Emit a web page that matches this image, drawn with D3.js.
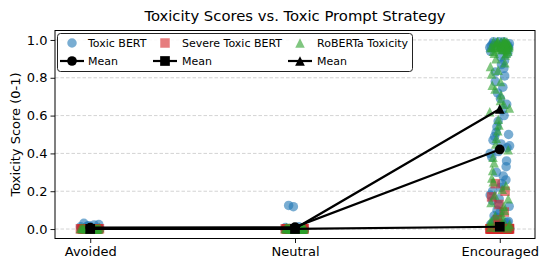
<!DOCTYPE html>
<html><head><meta charset="utf-8">
<script src="https://cdn.jsdelivr.net/npm/d3@7"></script>
<style>body{margin:0;background:#fff} text{font-family:"DejaVu Sans",sans-serif;fill:#000}</style>
</head><body><svg id="c" width="548" height="270"></svg>
<script>
const categories = ["Avoided", "Neutral", "Encouraged"];
const seriesNames = ["Toxic BERT", "Severe Toxic BERT", "RoBERTa Toxicity"];
const yTicks = [0, 0.2, 0.4, 0.6, 0.8, 1.0];

// Toxic BERT scores per prompt strategy
const toxicBertAvoided = [0.030,0.024,0.018,0.022,0.012,0.009,0.006,0.004,0.003,0.002,0.002,0.015,0.001,0.001,0.0008,0.0006,0.0005,0.0004,0.0003,0.0002];
const toxicBertNeutral = [0.125,0.004,0.118,0.012,0.008,0.006,0.005,0.003,0.003,0.002,0.002,0.002,0.0015,0.0012,0.001,0.001,0.001,0.0009,0.0008,0.0007,0.0006,0.0005,0.0005,0.0004,0.0004,0.0003,0.0003,0.0002,0.0002,0.0001];
const toxicBertEncouraged = [0.99,0.04,0.57,0.99,0.18,0.91,0.035,0.78,0.98,0.38,
  0.03,0.54,0.98,0.16,0.89,0.025,0.75,0.97,0.36,0.02,
  0.51,0.97,0.15,0.87,0.02,0.72,0.96,0.33,0.015,0.49,
  0.96,0.13,0.85,0.015,0.69,0.95,0.30,0.01,0.47,0.95,
  0.12,0.83,0.01,0.66,0.94,0.28,0.01,0.45,0.93,0.10,
  0.81,0.008,0.63,0.99,0.26,0.006,0.44,0.98,0.09,0.60,
  0.005,0.43,0.97,0.24,0.005,0.41,0.50,0.07,0.004,0.40,
  0.22,0.003,0.06,0.003,0.20,0.002,0.05,0.002,0.002,0.001];

// Severe Toxic BERT scores per prompt strategy
const severeAvoided = [0.001,0.0008,0.0012,0.0005,0.0015,0.0007,0.001,0.0009,0.0006,0.0011,0.0004,0.0013,0.0008,0.0005,0.001,0.0007,0.0009,0.0006,0.0012,0.0003];
const severeNeutral = [0.001,0.0008,0.0012,0.0005,0.0015,0.0007,0.001,0.0009,0.0006,0.0011,0.0004,0.0013,0.0008,0.0005,0.001,0.0007,0.0009,0.0006,0.0012,0.0003,0.002,0.0008,0.0004,0.001,0.0006,0.0009,0.0005,0.0011,0.0007,0.0004];
const severeEncouraged = [0.001,0.0008,0.0012,0.0005,0.0015,0.24,0.0007,0.001,0.0009,0.0006,
  0.0011,0.0004,0.0013,0.0008,0.0005,0.20,0.001,0.0007,0.0009,0.0006,
  0.0012,0.0003,0.002,0.0008,0.0004,0.001,0.0006,0.17,0.0009,0.0005,
  0.0011,0.0007,0.0004,0.003,0.0018,0.0025,0.0014,0.0009,0.13,0.0006,
  0.0011,0.0008,0.0005,0.0013,0.0007,0.0004,0.001,0.0016,0.0008,0.0006,
  0.09,0.0012,0.0009,0.0005,0.0007,0.0022,0.0004,0.0011,0.0006,0.001,
  0.0007,0.05,0.0009,0.0012,0.0005,0.0008,0.0015,0.0006,0.001,0.0004,
  0.0013,0.0007,0.03,0.0009,0.0011,0.0005,0.0008,0.0016,0.0006,0.001];

// RoBERTa toxicity scores per prompt strategy
const robertaAvoided = [0.004,0.002,0.006,0.001,0.003,0.0015,0.008,0.002,0.001,0.005,0.0012,0.003,0.0009,0.002,0.0007,0.004,0.001,0.0025,0.0006,0.0018];
const robertaNeutral = [0.005,0.002,0.008,0.001,0.003,0.0015,0.01,0.002,0.001,0.006,0.0012,0.003,0.0009,0.002,0.0007,0.004,0.001,0.0025,0.0006,0.0018,0.007,0.0011,0.003,0.0008,0.002,0.0005,0.004,0.0013,0.0009,0.0016];
const robertaEncouraged = [0.99,0.92,0.04,0.98,0.78,0.18,0.97,0.58,0.99,0.38,
  0.96,0.035,0.98,0.90,0.16,0.95,0.76,0.99,0.55,0.97,
  0.35,0.03,0.96,0.98,0.88,0.14,0.99,0.74,0.94,0.52,
  0.97,0.31,0.025,0.96,0.98,0.86,0.12,0.99,0.71,0.95,
  0.48,0.93,0.27,0.02,0.97,0.98,0.84,0.10,0.96,0.68,
  0.99,0.45,0.95,0.25,0.015,0.97,0.98,0.82,0.08,0.96,
  0.66,0.94,0.42,0.99,0.23,0.01,0.97,0.98,0.07,0.64,
  0.96,0.21,0.01,0.95,0.93,0.05,0.62,0.99,0.008,0.006];

// horizontal jitter (in category units) for each point
const jitterToxicBert = [-0.031,0.042,-0.008,0.019,-0.047,0.005,0.036,-0.022,0.011,-0.039,0.028,-0.014,0.047,-0.003,0.023,-0.044,0.015,-0.027,0.033,0.001,-0.018,0.040,-0.036,0.008,0.025,-0.011,-0.049,0.031,0.013,-0.025,0.044,-0.006,0.020,-0.041,0.003,0.037,-0.016,0.027,-0.033,0.010,0.046,-0.021,-0.002,0.034,-0.045,0.017,-0.029,0.006,0.039,-0.013,0.024,-0.038,0.012,-0.005,0.030,-0.024,0.048,-0.034,0.002,0.021,-0.019,0.035,-0.042,0.009,0.026,-0.007,0.043,-0.028,0.016,-0.047,0.004,0.038,-0.012,0.022,-0.035,0.049,-0.023,0.007,0.032,-0.040];
const jitterSevere = [0.014,-0.037,0.029,-0.006,0.045,-0.022,0.003,-0.043,0.032,-0.015,0.021,0.040,-0.030,0.009,-0.048,0.026,-0.011,0.036,-0.026,0.017,-0.002,0.043,-0.034,0.006,0.031,-0.019,0.012,-0.040,0.024,-0.008,0.038,-0.028,0.001,0.047,-0.013,0.019,-0.045,0.027,-0.004,0.034,-0.031,0.008,-0.021,0.042,-0.038,0.015,0.004,-0.017,0.029,-0.042,0.022,-0.009,0.037,-0.025,0.011,-0.046,0.033,-0.001,0.018,-0.035,0.026,-0.012,0.044,-0.033,0.007,-0.024,0.039,-0.047,0.016,0.002,-0.029,0.035,-0.007,0.021,-0.041,0.048,-0.016,0.010,-0.036,0.030];
const jitterRoberta = [-0.012,0.027,-0.041,0.036,0.004,-0.025,0.046,-0.007,0.018,-0.033,0.010,-0.048,0.031,-0.019,0.041,0.000,-0.037,0.022,-0.004,0.034,-0.028,0.013,0.044,-0.015,0.025,-0.043,0.007,-0.023,0.039,-0.010,0.016,-0.035,0.048,-0.001,0.028,-0.046,0.020,-0.030,0.006,0.037,-0.017,0.032,-0.039,0.011,-0.026,0.043,-0.008,0.023,-0.044,0.003,0.035,-0.020,0.014,-0.032,0.045,-0.014,0.026,-0.040,0.009,-0.003,0.019,-0.031,0.041,-0.009,0.030,-0.045,0.005,0.027,-0.022,0.047,-0.036,0.012,-0.002,0.033,-0.027,0.015,-0.049,0.024,-0.011,0.038];

const series = [
  {name: seriesNames[0], color: "#1f77b4", marker: "o", jitter: jitterToxicBert, data: [toxicBertAvoided, toxicBertNeutral, toxicBertEncouraged]},
  {name: seriesNames[1], color: "#d62728", marker: "s", jitter: jitterSevere, data: [severeAvoided, severeNeutral, severeEncouraged]},
  {name: seriesNames[2], color: "#2ca02c", marker: "^", jitter: jitterRoberta, data: [robertaAvoided, robertaNeutral, robertaEncouraged]}
];

const svg = d3.select("#c");
const L = 55, R = 535, T = 30.5, B = 238.5;
const x = d3.scaleLinear().domain([-0.172, 2.172]).range([L, R]);
const y = d3.scaleLinear().domain([-0.05, 1.05]).range([B, T]);

function markerPath(type, cx, cy, d) {
  const h = d / 2;
  if (type === "o") {
    const p = d3.path(); p.arc(cx, cy, h, 0, 2 * Math.PI); return p.toString();
  }
  if (type === "s") return `M${cx-h},${cy-h}H${cx+h}V${cy+h}H${cx-h}Z`;
  return `M${cx},${cy-h}L${cx+h},${cy+h}L${cx-h},${cy+h}Z`;
}

// grid
svg.append("g").selectAll("line").data(yTicks).join("line")
  .attr("x1", L).attr("x2", R).attr("y1", d => y(d)).attr("y2", d => y(d))
  .attr("stroke", "#b0b0b0").attr("stroke-opacity", 0.7).attr("stroke-width", 0.8)
  .attr("stroke-dasharray", "3.5,2");

// scatter
const SD = 9.5;
series.forEach(s => {
  const g = svg.append("g").attr("fill", s.color).attr("fill-opacity", 0.6);
  s.data.forEach((vals, ci) => {
    g.selectAll(null).data(vals).join("path")
      .attr("d", (v, i) => markerPath(s.marker, x(ci + s.jitter[i % s.jitter.length]), y(v), SD));
  });
});

// mean lines
const MD = 9.7;
series.forEach(s => {
  const means = s.data.map(v => d3.mean(v));
  const line = d3.line().x((d, i) => x(i)).y(d => y(d));
  svg.append("path").attr("d", line(means)).attr("fill", "none").attr("stroke", "#000").attr("stroke-width", 2.2);
  svg.append("g").selectAll("path").data(means).join("path")
    .attr("d", (m, i) => markerPath(s.marker, x(i), y(m), MD)).attr("fill", "#000");
});

// axes
const yAxis = svg.append("g").attr("transform", `translate(${L},0)`)
  .call(d3.axisLeft(y).tickValues(yTicks).tickFormat(d3.format(".1f")).tickSize(4.5).tickPadding(3));
const xAxis = svg.append("g").attr("transform", `translate(0,${B})`)
  .call(d3.axisBottom(x).tickValues([0, 1, 2]).tickFormat(i => categories[i]).tickSize(4.5).tickPadding(4));
[yAxis, xAxis].forEach(a => {
  a.select(".domain").remove();
  a.selectAll("text").attr("font-size", "13px").attr("font-family", "DejaVu Sans");
  a.selectAll("line").attr("stroke", "#000").attr("stroke-width", 0.9);
});

// spines
svg.append("rect").attr("x", L).attr("y", T).attr("width", R - L).attr("height", B - T)
  .attr("fill", "none").attr("stroke", "#000").attr("stroke-width", 1);

// title & label
svg.append("text").attr("x", (L + R) / 2).attr("y", 21).attr("text-anchor", "middle")
  .attr("font-size", "14.8px").text("Toxicity Scores vs. Toxic Prompt Strategy");
svg.append("text").attr("transform", `translate(20,${(T + B) / 2}) rotate(-90)`).attr("text-anchor", "middle")
  .attr("font-size", "13px").text("Toxicity Score (0-1)");

// legend
const lg = svg.append("g");
lg.append("rect").attr("x", 57.5).attr("y", 33.5).attr("width", 355).attr("height", 38).attr("rx", 3)
  .attr("fill", "#fff").attr("fill-opacity", 0.85).attr("stroke", "#222").attr("stroke-width", 1);
const colX = [72, 165, 300];
const txtX = [88, 182, 317];
series.forEach((s, i) => {
  lg.append("path").attr("d", markerPath(s.marker, colX[i], 43, SD)).attr("fill", s.color).attr("fill-opacity", 0.6);
  lg.append("text").attr("x", txtX[i]).attr("y", 43).attr("dy", "0.36em").attr("font-size", "11px").text(s.name);
  lg.append("line").attr("x1", colX[i] - 12).attr("x2", colX[i] + 12).attr("y1", 61).attr("y2", 61)
    .attr("stroke", "#000").attr("stroke-width", 2.2);
  lg.append("path").attr("d", markerPath(s.marker, colX[i], 61, MD)).attr("fill", "#000");
  lg.append("text").attr("x", txtX[i]).attr("y", 61).attr("dy", "0.36em").attr("font-size", "11px").text("Mean");
});
</script></body></html>
